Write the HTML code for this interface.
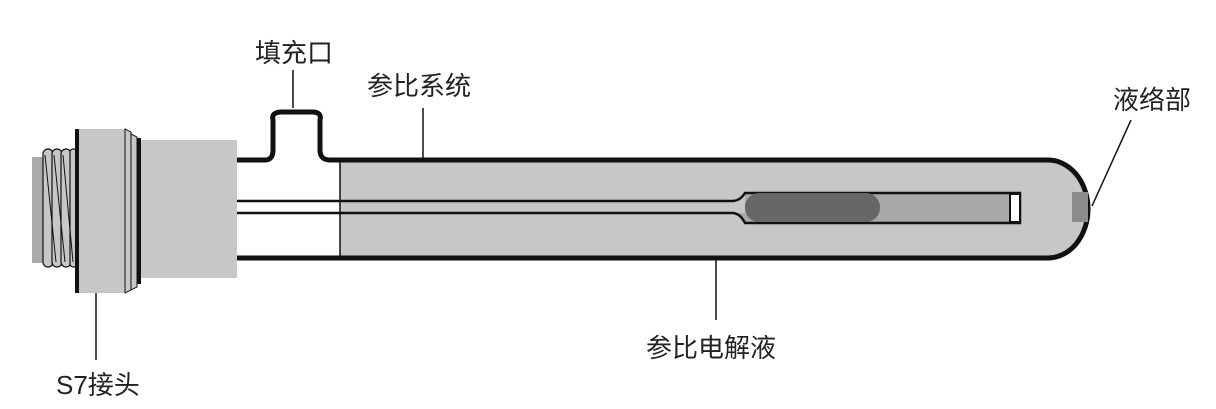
<!DOCTYPE html>
<html><head><meta charset="utf-8"><style>
html,body{margin:0;padding:0;background:#fff;}
svg{display:block}
text{font-family:"Liberation Sans","Noto Sans CJK SC",sans-serif;font-size:26px;fill:#222}
</style></head><body>
<svg width="1216" height="409" viewBox="0 0 1216 409" xmlns="http://www.w3.org/2000/svg">
<path d="M340 160 H1048 A40 49 0 0 1 1048 258 H340 Z" fill="#c6c7c9"/>
<line x1="340" y1="160" x2="340" y2="258" stroke="#111" stroke-width="1.5"/>
<path d="M745 193 H1020 V223 H745 Q740 213 732 213 H745 Z" fill="#a7a8aa"/>
<path d="M236 201 H732 Q740 201 745 193 H1020 V223 H745 Q740 213 732 213 H236" fill="none" stroke="#111" stroke-width="2.5"/>
<rect x="745" y="193" width="135" height="29" rx="14" fill="#666769"/>
<rect x="1010" y="194" width="10" height="28" fill="#fff" stroke="#111" stroke-width="2"/>
<path d="M236 160 H265 Q273 160 273 150 V120 Q271 112 282 112 H312 Q322 112 320 120 V150 Q320 160 330 160 H1048 A40 49 0 0 1 1048 258 H236" fill="none" stroke="#111" stroke-width="5" stroke-linejoin="round"/>
<rect x="1072" y="192" width="16" height="30" fill="#8a8b8d"/>
<rect x="32" y="157" width="45" height="106" fill="#a9aaac"/>
<g fill="#c6c7c9" stroke="#111" stroke-width="1.2">
<rect x="43" y="149" width="10" height="118" rx="5"/>
<rect x="52" y="149" width="10" height="118" rx="5"/>
<rect x="61" y="149" width="10" height="118" rx="5"/>
<rect x="70" y="149" width="7" height="118" rx="3"/>
</g>
<g stroke="#111" stroke-width="1">
<line x1="45" y1="155" x2="56" y2="262"/><line x1="54" y1="155" x2="65" y2="262"/><line x1="63" y1="155" x2="73" y2="262"/>
</g>
<rect x="75" y="129" width="4" height="164" fill="#111"/>
<rect x="79" y="129" width="46" height="164" fill="#c6c7c9"/>
<path d="M125 129 L131 132 V290 L125 293 Z" fill="#c6c7c9" stroke="#111" stroke-width="1"/>
<path d="M131 134 L137 137 V287 L131 290 Z" fill="#c6c7c9" stroke="#111" stroke-width="1"/>
<rect x="137" y="138" width="4" height="146" fill="#111"/>
<rect x="141" y="140" width="96" height="138" fill="#c6c7c9"/>
<g stroke="#111" stroke-width="1.5">
<line x1="293" y1="70" x2="293" y2="108"/>
<line x1="423" y1="108" x2="423" y2="158"/>
<line x1="1131" y1="120" x2="1092" y2="206"/>
<line x1="716" y1="260" x2="716" y2="320"/>
<line x1="96" y1="293" x2="96" y2="360"/>
</g>
<text x="255" y="62">填充口</text>
<text x="367" y="95">参比系统</text>
<text x="1113" y="109">液络部</text>
<text x="646" y="357">参比电解液</text>
<text x="56" y="394">S7接头</text>
</svg>
</body></html>
